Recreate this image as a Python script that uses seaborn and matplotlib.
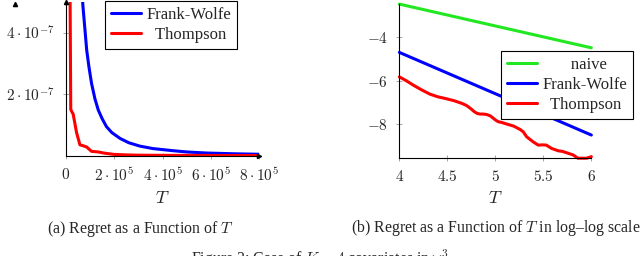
import pandas as pd
import seaborn as sns
import matplotlib.pyplot as plt

# (a) regret against T, regret in units of 1e-7
fw_T = [6.0e4, 7.0e4, 8.6e4, 9.5e4, 1.06e5, 1.2e5, 1.34e5, 1.5e5, 1.68e5, 1.9e5,
        2.24e5, 2.6e5, 3.06e5, 3.6e5, 4.44e5, 5.0e5, 5.83e5, 7.0e5, 8.0e5]
fw_regret = [6.6, 4.9, 3.43, 2.9, 2.35, 1.85, 1.48, 1.2, 0.94, 0.75,
             0.56, 0.42, 0.31, 0.23, 0.16, 0.12, 0.085, 0.06, 0.045]
th_T = [1.0e4, 2.0e4, 2.3e4, 3.0e4, 4.4e4, 5.8e4, 7.2e4, 8.6e4, 1.06e5, 1.34e5,
        1.6e5, 2.0e5, 2.5e5, 3.0e5, 4.0e5, 5.0e5, 6.0e5, 7.0e5, 8.0e5]
th_regret = [14.8, 1.5, 1.45, 1.35, 0.75, 0.35, 0.32, 0.28, 0.14, 0.12,
             0.08, 0.04, 0.025, 0.015, 0.01, 0.008, 0.006, 0.005, 0.004]

# (b) log10 regret against log10 T
naive_logT = [4.0, 6.0]
naive_log = [-2.5, -4.5]
fw_logT = [4.0, 6.0]
fw_log = [-4.71, -8.49]
th_logT = [4.0, 4.07, 4.146, 4.23, 4.319, 4.40, 4.49, 4.57, 4.65, 4.70, 4.74, 4.78,
           4.81, 4.84, 4.87, 4.91, 4.95, 5.0, 5.03, 5.07, 5.12, 5.19, 5.256, 5.29,
           5.326, 5.39, 5.446, 5.49, 5.53, 5.585, 5.654, 5.70, 5.742, 5.81, 5.86,
           5.90, 5.95, 6.0]
th_log = [-5.83, -6.0, -6.21, -6.42, -6.62, -6.74, -6.83, -6.92, -7.04, -7.14, -7.27,
          -7.42, -7.50, -7.53, -7.53, -7.55, -7.62, -7.80, -7.88, -7.92, -7.99, -8.08,
          -8.23, -8.34, -8.57, -8.79, -8.95, -8.94, -8.95, -9.10, -9.21, -9.24, -9.30,
          -9.40, -9.55, -9.55, -9.55, -9.48]

colors = {"naive": "#22e822", "Frank-Wolfe": "#0000ff", "Thompson": "#ff0000"}

left = pd.concat([
    pd.DataFrame({"T": fw_T, "regret": [v * 1e-7 for v in fw_regret], "method": "Frank-Wolfe"}),
    pd.DataFrame({"T": th_T, "regret": [v * 1e-7 for v in th_regret], "method": "Thompson"}),
])
right = pd.concat([
    pd.DataFrame({"T": naive_logT, "regret": naive_log, "method": "naive"}),
    pd.DataFrame({"T": fw_logT, "regret": fw_log, "method": "Frank-Wolfe"}),
    pd.DataFrame({"T": th_logT, "regret": th_log, "method": "Thompson"}),
])

sns.set_style("ticks")
plt.rcParams["font.family"] = ["Liberation Serif", "DejaVu Serif"]
plt.rcParams["mathtext.fontset"] = "cm"

fig = plt.figure(figsize=(6.4, 2.56), dpi=100)
ax1 = fig.add_axes([0.103, 0.392, 0.302, 0.601])
ax2 = fig.add_axes([0.624, 0.382, 0.300, 0.602])

sns.lineplot(data=left, x="T", y="regret", hue="method", palette=colors,
             estimator=None, sort=False, linewidth=2.2, ax=ax1)
sns.lineplot(data=right, x="T", y="regret", hue="method", palette=colors,
             estimator=None, sort=False, linewidth=2.2, ax=ax2)

ax1.set_xlim(0, 8e5)
ax1.set_ylim(0, 5e-7)
ax1.set_xticks([0, 2e5, 4e5, 6e5, 8e5])
ax1.set_xticklabels(["$0$"] + [r"$%d\cdot10^{5}$" % k for k in (2, 4, 6, 8)])
ax1.set_yticks([2e-7, 4e-7])
ax1.set_yticklabels([r"$2\cdot10^{-7}$", r"$4\cdot10^{-7}$"])

ax2.set_xlim(4, 6)
ax2.set_ylim(-9.55, -2.5)
ax2.set_xticks([4, 4.5, 5, 5.5, 6])
ax2.set_xticklabels(["$4$", "$4.5$", "$5$", "$5.5$", "$6$"])
ax2.set_yticks([-4, -6, -8])
ax2.set_yticklabels(["$-4$", "$-6$", "$-8$"])
for line in ax2.get_lines():
    line.set_clip_on(False)

for ax in (ax1, ax2):
    for s in ("top", "right"):
        ax.spines[s].set_visible(False)
    for s in ("left", "bottom"):
        ax.spines[s].set_color("black")
        ax.spines[s].set_linewidth(0.8)
    ax.tick_params(direction="inout", length=4, width=0.6, color="#999999",
                   labelsize=11, pad=6)
    ax.set_xlabel("$T$", fontsize=13, labelpad=4)
    ax.set_ylabel("")
    # arrow heads at the axis ends
    ax.plot(1, 0, ">k", ms=3, transform=ax.get_yaxis_transform(), clip_on=False)
    ax.plot(0, 1, "^k", ms=3, transform=ax.get_xaxis_transform(), clip_on=False)

legend_style = dict(borderaxespad=0, fancybox=False, edgecolor="black", framealpha=1,
                    fontsize=12, handlelength=1.8, handletextpad=0.35,
                    borderpad=0.35, labelspacing=0.25)

h1, _ = ax1.get_legend_handles_labels()
leg1 = ax1.legend(h1, ["Frank-Wolfe", "  Thompson"], loc="upper left",
                  bbox_to_anchor=(0.203, 1.005), **legend_style)
leg1.get_frame().set_linewidth(0.8)

h2, _ = ax2.get_legend_handles_labels()
leg2 = ax2.legend(h2, ["       naive", "Frank-Wolfe", "  Thompson"], loc="upper right",
                  bbox_to_anchor=(1.217, 0.697), **legend_style)
leg2.get_frame().set_linewidth(0.8)

fig.text(140 / 640, 1 - 229 / 256, "(a) Regret as a Function of $T$",
         ha="center", va="center", fontsize=11.4)
fig.text(496 / 640, 1 - 228 / 256, "(b) Regret as a Function of $T$ in log\u2013log scale",
         ha="center", va="center", fontsize=11.4)
fig.text(0.5, -0.01, "Figure 2: Case of $K = 4$ covariates in \u211d$^3$",
         ha="center", va="center", fontsize=11.4)

fig.savefig("out.png", dpi=100)
